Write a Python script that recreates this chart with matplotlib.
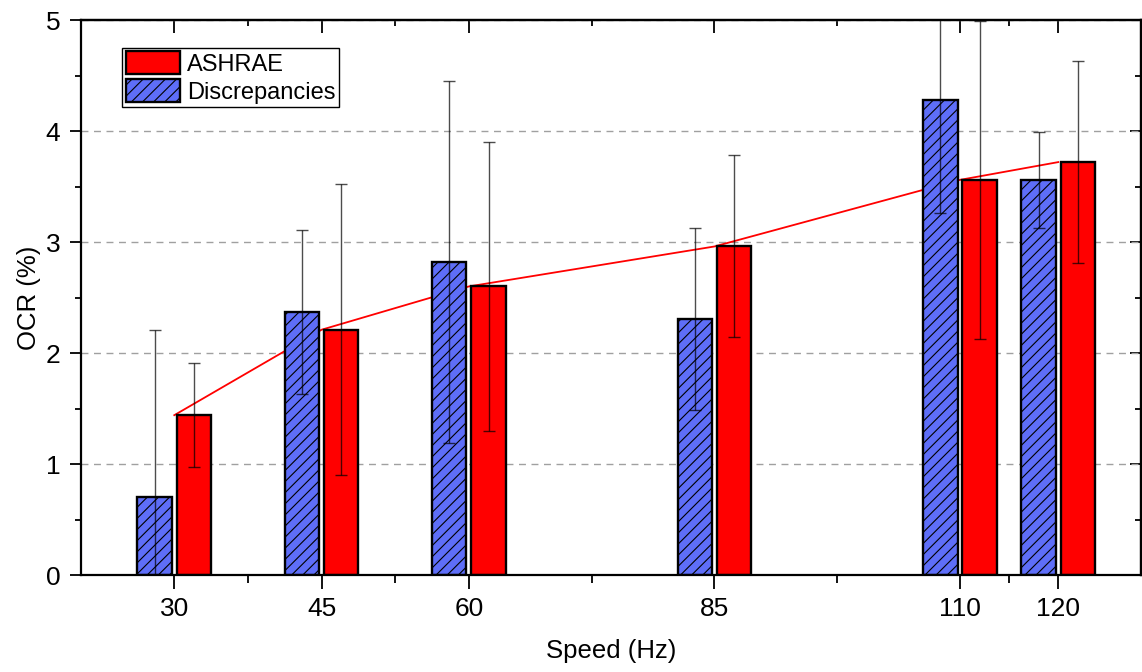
import numpy as np
import matplotlib
matplotlib.use('Agg')
import matplotlib.pyplot as plt
from matplotlib.ticker import MultipleLocator

plt.rcParams['font.family'] = ['Liberation Sans', 'DejaVu Sans']
plt.rcParams['hatch.linewidth'] = 0.8

## data
speeds = np.array([30, 45, 60, 85, 110, 120])
minor_x = [37.5, 52.5, 72.5, 97.5, 115]
ashrae = np.array([1.44, 2.21, 2.60, 2.96, 3.56, 3.72])
ashrae_err = np.array([0.47, 1.31, 1.30, 0.82, 1.43, 0.91])
discrep = np.array([0.70, 2.37, 2.82, 2.31, 4.28, 3.56])
discrep_err = np.array([1.51, 0.74, 1.63, 0.82, 1.02, 0.43])

off = 2.0
w = 3.5

fig = plt.figure(figsize=(11.42, 6.72), dpi=100)
ax = fig.add_axes([0.0709, 0.1443, 0.9280, 0.8259])

# grid behind everything
ax.set_axisbelow(True)
ax.yaxis.grid(True, which='major', color='#a0a0a0', linestyle=(0, (5, 4)), linewidth=1.0)

# red trend line sits behind the bars
ax.plot(speeds, ashrae, color='red', linewidth=1.3, zorder=1.5)

b1 = ax.bar(speeds - off, discrep, width=w, color='#5E6EF8', edgecolor='black',
            linewidth=1.7, hatch='///', label='Discrepancies', zorder=2)
b2 = ax.bar(speeds + off, ashrae, width=w, color='#FF0000', edgecolor='black',
            linewidth=1.7, label='ASHRAE', zorder=2)

ax.errorbar(speeds - off, discrep, yerr=discrep_err, fmt='none', ecolor='black',
            alpha=0.7, elinewidth=1.0, capsize=4.5, capthick=1.0, zorder=3)
ax.errorbar(speeds + off, ashrae, yerr=ashrae_err, fmt='none', ecolor='black',
            alpha=0.7, elinewidth=1.0, capsize=4.5, capthick=1.0, zorder=3)

ax.set_xlim(20.5, 128.4)
ax.set_ylim(0, 5)

ax.set_xticks(speeds)
ax.set_xticklabels([str(s) for s in speeds])
ax.set_xticks(minor_x, minor=True)
ax.yaxis.set_major_locator(MultipleLocator(1))
ax.yaxis.set_minor_locator(MultipleLocator(0.5))

ax.tick_params(axis='x', which='major', direction='out', length=10, width=1.3, labelsize=19, pad=6)
ax.tick_params(axis='x', which='minor', direction='out', length=5.5, width=1.3)
ax.tick_params(axis='y', which='major', direction='out', length=8, width=1.3, labelsize=19, pad=7)
ax.tick_params(axis='y', which='minor', direction='out', length=4, width=1.3)

for sp in ax.spines.values():
    sp.set_linewidth(1.6)

## mirrored ticks on top and right, pointing inward
top = ax.secondary_xaxis('top')
top.set_xticks(speeds)
top.set_xticks(minor_x, minor=True)
top.tick_params(which='major', direction='in', length=9, width=1.3, labeltop=False)
top.tick_params(which='minor', direction='in', length=4.5, width=1.3)
top.spines['top'].set_linewidth(1.6)

right = ax.secondary_yaxis('right')
right.yaxis.set_major_locator(MultipleLocator(1))
right.yaxis.set_minor_locator(MultipleLocator(0.5))
right.tick_params(which='major', direction='in', length=8, width=1.3, labelright=False)
right.tick_params(which='minor', direction='in', length=4, width=1.3)
right.spines['right'].set_linewidth(1.6)

ax.set_xlabel('Speed (Hz)', fontsize=18.5, labelpad=13)
ax.set_ylabel('OCR (%)', fontsize=18.5, labelpad=3)

leg = ax.legend(handles=[b2, b1], loc='upper left', bbox_to_anchor=(0.039, 0.95),
                fontsize=17, frameon=True, fancybox=False, framealpha=1,
                edgecolor='black', handlelength=2.3, handleheight=1.1,
                handletextpad=0.3, labelspacing=0.15, borderpad=0.15,
                borderaxespad=0)
leg.get_frame().set_linewidth(1.0)

fig.savefig('out.png', dpi=100)
